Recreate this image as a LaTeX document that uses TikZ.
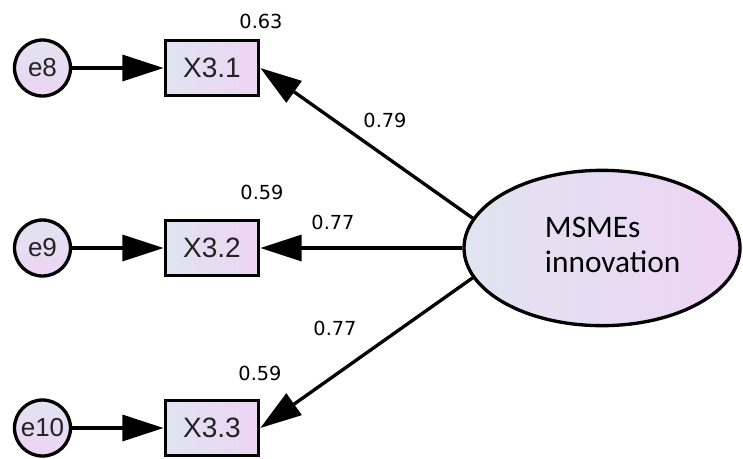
\documentclass[tikz,border=0pt]{standalone}
\usepackage{fontspec}
\setmainfont{Liberation Sans}
\newfontfamily\dejavu{DejaVu Sans}
\newfontfamily\carlito[Ligatures=Common]{Carlito}
\usetikzlibrary{arrows.meta,shapes.geometric}
\definecolor{fillL}{RGB}{224,228,240}
\definecolor{fillR}{RGB}{238,212,244}
\definecolor{txtgray}{RGB}{35,35,35}
\tikzset{
  obsbox/.style={draw=black, line width=2.5pt, rectangle, minimum width=70pt, minimum height=41.5pt,
    inner sep=0pt, left color=fillL, right color=fillR, text=txtgray, font=\fontsize{21pt}{25pt}\selectfont},
  errnode/.style={draw=black, line width=2.5pt, circle, minimum size=42pt, inner sep=0pt,
    top color=fillL, bottom color=fillR, text=txtgray, font=\fontsize{19.5pt}{23pt}\selectfont},
  latent/.style={draw=black, line width=2.5pt, ellipse, minimum width=207pt, minimum height=116.5pt,
    inner sep=0pt, left color=fillL, right color=fillR, font=\carlito\fontsize{23.5pt}{26.3pt}\selectfont},
  arr/.style={line width=2.5pt, -{Triangle[length=31pt,width=19.5pt]}},
  coef/.style={font=\dejavu\fontsize{14.5pt}{16pt}\selectfont, inner sep=0pt, text=black},
}
\begin{document}
\begin{tikzpicture}[x=0.75pt,y=-0.75pt]
\useasboundingbox (0,0) rectangle (743,458);
% observed variables
\node[obsbox] (X1) at (212,68) {X3.1};
\node[obsbox] (X2) at (212,248) {X3.2};
\node[obsbox] (X3) at (212,428) {X3.3};
% error terms
\node[errnode] (e8) at (42.5,68) {e8};
\node[errnode] (e9) at (42.5,248) {e9};
\node[errnode] (e10) at (42.5,428) {e10};
% latent
\node[latent] (M) at (602,248) {\hspace*{16pt}\begin{tabular}{@{}l@{}}MSMEs\\innovation\end{tabular}};
% connectors
\draw[arr] (e8.east) -- (X1.west);
\draw[arr] (e9.east) -- (X2.west);
\draw[arr] (e10.east) -- (X3.west);
\draw[arr] (M.167) -- (X1.east);
\draw[arr] (M.west) -- (X2.east);
\draw[arr] (M.193) -- (X3.east);
% coefficients
\node[coef] (r1) at (261,21) {0.63};
\node[coef] (r2) at (262,192) {0.59};
\node[coef] (r3) at (260,373) {0.59};
\node[coef] (l1) at (385,120) {0.79};
\node[coef] (l2) at (333,222) {0.77};
\node[coef] (l3) at (335,328) {0.77};
\end{tikzpicture}
\end{document}
